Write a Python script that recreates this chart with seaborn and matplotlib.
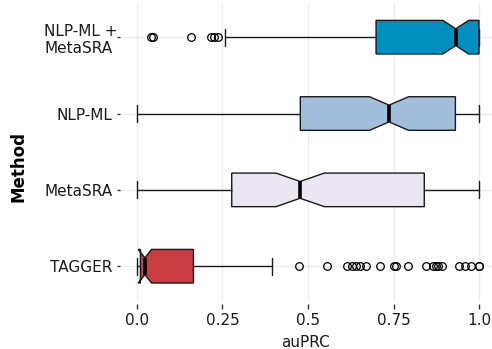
import numpy as np
import pandas as pd
import matplotlib
matplotlib.use("Agg")
import matplotlib.pyplot as plt
import matplotlib.transforms as mtransforms
import seaborn as sns

sns.set_style("whitegrid")
plt.rcParams['font.family'] = ['DejaVu Sans']

methods = ["NLP-ML +\nMetaSRA", "NLP-ML", "MetaSRA", "TAGGER"]
colors = ["#008fbf", "#a1bedb", "#ebe6f2", "#c83c42"]

# auPRC per sample, written as (value, number of samples with that value)
combo_values = [0.041, 0.048, 0.158, 0.215, 0.225, 0.238, 0.257, 0.50, 0.699, 0.80, 0.932, 0.97, 1.0]
combo_counts = [1, 1, 1, 1, 1, 1, 1, 31, 2, 37, 2, 37, 40]

nlpml_values = [0.0, 0.25, 0.4775, 0.60, 0.737, 0.85, 0.931, 0.97, 1.0]
nlpml_counts = [1, 37, 2, 37, 2, 37, 2, 37, 1]

metasra_values = [0.0, 0.15, 0.277, 0.38, 0.477, 0.65, 0.840, 0.92, 1.0]
metasra_counts = [1, 37, 2, 37, 2, 37, 2, 37, 1]

tagger_values = [0.0, 0.005, 0.010, 0.016, 0.023, 0.08, 0.165, 0.25, 0.394,
                 0.474, 0.557, 0.615, 0.628, 0.640, 0.652, 0.670, 0.711,
                 0.752, 0.757, 0.791, 0.844, 0.866, 0.873, 0.881, 0.893,
                 0.942, 0.959, 0.977, 0.999, 1.0]
tagger_counts = [1, 37, 2, 37, 2, 37, 2, 16, 1] + [1] * 21

frames = []
for name, vals, cnts in zip(methods,
                            [combo_values, nlpml_values, metasra_values, tagger_values],
                            [combo_counts, nlpml_counts, metasra_counts, tagger_counts]):
    frames.append(pd.DataFrame({"Method": name, "auPRC": np.repeat(vals, cnts)}))
df = pd.concat(frames, ignore_index=True)

fig = plt.figure(figsize=(4.92, 3.49), dpi=100)
ax = fig.add_axes([120 / 492, 1 - 299.8 / 349, 372 / 492, 296.2 / 349])

sns.boxplot(data=df, x="auPRC", y="Method", hue="Method", order=methods,
            hue_order=methods, palette=colors, saturation=1, legend=False,
            notch=True, width=0.44, linewidth=1, linecolor="#1a1a1a",
            fliersize=5.5,
            medianprops=dict(color="black", linewidth=2.6),
            whiskerprops=dict(color="#1a1a1a", linewidth=1),
            capprops=dict(color="#1a1a1a", linewidth=1),
            flierprops=dict(marker="o", markerfacecolor="none",
                            markeredgecolor="black", markeredgewidth=0.9),
            ax=ax)

ax.set_xlim(-0.0497, 1.038)
ax.set_ylim(3.44, -0.44)
ax.set_xticks([0, 0.25, 0.5, 0.75, 1.0])
ax.set_xticklabels(["0.0", "0.25", "0.5", "0.75", "1.0"])
ax.grid(True, color="#ebebeb", linewidth=1)
ax.yaxis.grid(True)
ax.set_axisbelow(True)
for s in ax.spines.values():
    s.set_visible(False)
ax.spines['bottom'].set_position(('outward', 3))

ax.tick_params(axis="both", which="major", labelsize=11, labelcolor="#1a1a1a",
               color="#333333", width=1)
ax.tick_params(axis="y", length=2.5, pad=2.7)
ax.tick_params(axis="x", length=3.6, pad=3)
ax.tick_params(bottom=True, left=True)

ax.set_xlabel("auPRC", fontsize=11, color="#1a1a1a", labelpad=5)
ax.set_ylabel("Method", fontsize=12, fontweight="bold", color="black")
ax.yaxis.set_label_coords((28 - 120) / 372, (299.8 - 166) / 296.2)

for lbl in ax.get_yticklabels():
    if "\n" in lbl.get_text():
        lbl.set_multialignment("left")
        lbl.set_transform(lbl.get_transform() +
                          mtransforms.ScaledTranslation(5 / 100, 0, fig.dpi_scale_trans))

fig.savefig("out.png", dpi=100)
